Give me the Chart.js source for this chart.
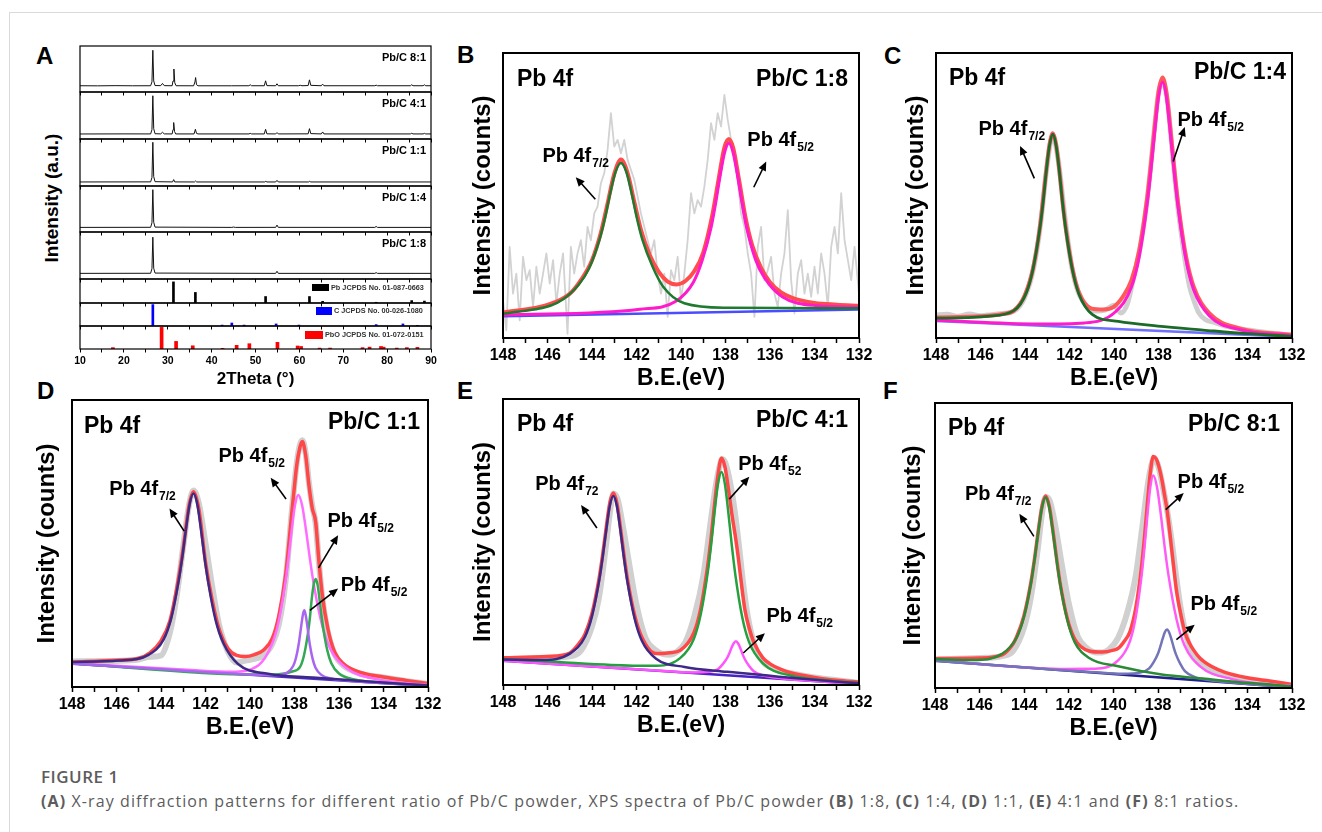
<!DOCTYPE html>
<html>
<head>
<meta charset="utf-8">
<script src="https://cdn.jsdelivr.net/npm/chart.js@4.4.1/dist/chart.umd.min.js"></script>
<style>
  html, body { margin: 0; padding: 0; background: #fff; }
  #page { position: relative; width: 1322px; height: 832px; overflow: hidden; font-family: 'Liberation Sans', Arial, sans-serif; }
  canvas { position: absolute; }
  .rule-top { position: absolute; left: 9px; top: 12px; right: 0; border-top: 1px solid #dadada; }
  .rule-left { position: absolute; left: 9px; top: 12px; bottom: 0; border-left: 1px solid #dadada; }
  .letter { position: absolute; font-weight: bold; font-size: 24px; line-height: 24px; }
  .ytitle { position: absolute; width: 200px; text-align: center; font-weight: bold; font-size: 19px; line-height: 20px; transform: rotate(-90deg); white-space: nowrap; }
  .cap { position: absolute; left: 41px; color: #5c5c5c; font-family: 'Open Sans', 'Noto Sans', sans-serif; white-space: nowrap; line-height: 20px; }
</style>
</head>
<body>
<div id="page">
  <div class="rule-top"></div>
  <div class="rule-left"></div>
  <div class="letter" style="left:36px;top:44px">A</div>
  <div class="letter" style="left:457px;top:43px">B</div>
  <div class="letter" style="left:884px;top:44px">C</div>
  <div class="letter" style="left:37px;top:379px">D</div>
  <div class="letter" style="left:457px;top:379px">E</div>
  <div class="letter" style="left:883px;top:379px">F</div>
  <div class="ytitle" style="left:-48px;top:188px">Intensity (a.u.)</div>
  <div class="cap" style="top:767px;font-size:17px;font-weight:600;letter-spacing:0.5px">FIGURE 1</div>
  <div class="cap" style="top:791px;font-size:16px;letter-spacing:1.1px"><b>(A)</b> X-ray diffraction patterns for different ratio of Pb/C powder, XPS spectra of Pb/C powder <b>(B)</b> 1:8, <b>(C)</b> 1:4, <b>(D)</b> 1:1, <b>(E)</b> 4:1 and <b>(F)</b> 8:1 ratios.</div>
</div>
<script>
const FAM = "'Liberation Sans', Arial, sans-serif";

// ---- (A) XRD patterns, [2theta, % of strip height] ----
const xrd81 = [[10,13.6],[14,13.4],[18,13.8],[22,13.5],[26.1,13.6],[26.4,22],[26.6,90.7],[26.8,24],[27.1,14],[28.4,13.8],[28.8,18.6],[29.2,13.8],[31.0,13.6],[31.2,24],[31.4,50],[31.6,20],[31.9,13.6],[35.9,13.5],[36.2,22],[36.35,31.4],[36.55,16],[36.9,13.5],[44.5,13.5],[48.5,13.6],[48.8,15.7],[49.1,13.6],[52.0,13.6],[52.3,24.3],[52.6,13.8],[54.6,13.6],[54.9,17.9],[55.2,13.6],[59.8,13.6],[60.2,14.6],[60.6,13.6],[62.0,14],[62.3,26.4],[62.6,14.5],[65.0,13.6],[65.3,17.1],[65.6,13.6],[77.2,13.6],[77.5,14.8],[77.8,13.6],[85.3,13.6],[85.6,15.7],[85.9,13.6],[88.2,13.6],[88.5,15.7],[88.8,13.6],[90,13.6]];
const xrd41 = [[10,10.7],[20,10.9],[26.1,10.8],[26.4,20],[26.6,92],[26.8,22],[27.1,11.2],[28.4,10.9],[28.8,14.3],[29.2,10.9],[31.0,10.8],[31.2,20],[31.35,35],[31.55,16],[31.8,10.8],[36.0,10.8],[36.3,20.7],[36.55,12],[36.9,10.8],[48.5,10.8],[48.8,12],[49.1,10.8],[52.0,10.8],[52.3,20.7],[52.6,11],[54.6,10.8],[54.9,13.6],[55.2,10.8],[62.0,11],[62.3,22],[62.6,11.5],[65.0,10.8],[65.3,15],[65.6,10.8],[85.3,10.8],[85.6,12.2],[85.9,10.8],[88.2,10.8],[88.5,12],[88.8,10.8],[90,10.8]];
const xrd11 = [[10,8.6],[26.1,8.8],[26.4,18],[26.6,93],[26.8,20],[27.1,9.2],[31.1,8.7],[31.35,13.6],[31.6,8.7],[36.1,8.6],[36.35,10.7],[36.6,8.6],[52.1,8.6],[52.35,10],[52.6,8.6],[54.6,8.6],[54.9,12],[55.2,8.6],[62.1,8.6],[62.35,10],[62.6,8.6],[90,8.6]];
const xrd14 = [[10,10],[26.1,10.2],[26.4,20],[26.6,92],[26.8,21],[27.1,10.6],[44.6,10],[45.0,10.8],[45.4,10],[54.6,10.1],[54.9,15],[55.2,10.1],[77.2,10],[77.5,12],[77.8,10],[90,10]];
const xrd18 = [[10,12],[26.1,12.2],[26.4,22],[26.6,89],[26.8,23],[27.1,12.6],[54.6,12],[54.9,16.4],[55.2,12],[77.2,12],[77.5,13.5],[77.8,12],[90,12]];

// reference cards
const pbPos = [31.3, 36.3, 52.3, 62.3, 65.3, 77.5, 85.6, 88.5];
const pbInt = [88, 44, 27, 27, 7, 3, 10, 8];
const cPos = [26.6, 42.4, 44.6, 47.4, 54.7, 59.9, 77.5, 83.6, 86.9];
const cInt = [93, 4, 13, 4, 9, 4, 6, 9, 3];
const pboPos = [17.5, 28.6, 31.9, 35.7, 42.5, 45.7, 48.6, 55.0, 59.6, 60.4, 64.6, 67.0, 74.4, 76.0, 78.6, 79.2, 82.2, 84.5, 86.9];
const pboInt = [6, 94, 33, 14, 3, 16, 23, 29, 13, 11, 4, 4, 6, 8, 11, 8, 4, 6, 7];

// ---- (B) Pb/C 1:8, [B.E. eV, % of plot height] ----
const bRaw = [[148.0,13.2],[147.85,2.7],[147.7,32.0],[147.55,15.6],[147.4,22.6],[147.25,6.2],[147.1,28.5],[146.95,20.3],[146.8,23.8],[146.65,10.9],[146.5,25.0],[146.35,15.6],[146.2,22.6],[146.05,29.7],[145.9,19.1],[145.75,27.3],[145.6,12.1],[145.45,22.6],[145.3,29.7],[145.1,1.5],[144.95,32.0],[144.8,22.6],[144.65,29.7],[144.5,34.3],[144.35,25.0],[144.2,39.0],[144.05,34.3],[143.9,43.7],[143.75,46.1],[143.6,54.3],[143.45,57.8],[143.3,66.0],[143.15,78.9],[143.0,67.2],[142.85,69.5],[142.7,64.8],[142.55,69.5],[142.4,62.5],[142.25,59.0],[142.1,55.5],[141.95,49.6],[141.8,43.7],[141.65,39.0],[141.5,34.3],[141.35,29.7],[141.2,34.3],[141.05,22.6],[140.9,15.6],[140.75,22.6],[140.6,7.4],[140.45,23.8],[140.3,20.3],[140.15,28.5],[140.0,13.2],[139.85,22.6],[139.7,34.3],[139.55,50.8],[139.4,43.7],[139.25,48.4],[139.1,46.1],[138.95,53.1],[138.8,62.5],[138.65,75.4],[138.5,69.5],[138.35,78.9],[138.2,74.2],[138.05,85.3],[137.9,76.6],[137.75,69.5],[137.6,63.7],[137.45,55.5],[137.3,43.7],[137.15,39.0],[137.0,29.7],[136.85,22.6],[136.7,7.4],[136.55,32.0],[136.4,39.0],[136.25,20.3],[136.1,23.8],[135.95,28.5],[135.8,15.6],[135.65,10.9],[135.5,22.6],[135.35,29.7],[135.2,44.9],[135.05,20.3],[134.9,8.6],[134.75,22.6],[134.6,27.3],[134.45,15.6],[134.3,22.6],[134.15,14.4],[134.0,25.0],[133.85,15.6],[133.7,29.7],[133.55,22.6],[133.4,10.9],[133.25,32.0],[133.1,39.0],[132.95,29.7],[132.8,50.8],[132.65,34.3],[132.5,27.3],[132.35,20.3],[132.2,32.0],[132.0,15.6]];
const bFit = [[148,8.9],[146,11.6],[145,15.5],[144.5,20.3],[144,27.3],[143.6,37.0],[143.3,47.2],[143.0,57.6],[142.7,62.6],[142.4,57.9],[142.1,47.8],[141.8,38.0],[141.4,29.0],[141.0,23.2],[140.6,19.8],[140.2,18.8],[139.8,20.0],[139.4,23.5],[139.0,30.0],[138.6,42.8],[138.3,56.2],[138.05,66.8],[137.85,69.8],[137.65,66.6],[137.4,55.9],[137.1,42.2],[136.8,32.5],[136.4,24.6],[136.0,19.6],[135.5,16.0],[135.0,14.1],[134.0,12.3],[133.0,11.7],[132.0,11.3]];
const bPk72 = [[148,8.5],[147.45,9.1],[145.55,12.4],[144.6,18.7],[144.13,24.5],[143.65,34.9],[143.41,42.3],[143.18,50.8],[142.94,58.3],[142.7,61.4],[142.46,58.3],[142.22,50.8],[141.99,42.3],[141.75,34.9],[141.27,24.9],[140.8,18.0],[139.85,12.2],[137.95,10.6],[132,10.4]];
const bPk52 = [[148,8.0],[141.85,10.1],[140.25,12.8],[139.45,19.5],[139.05,27.2],[138.65,38.7],[138.45,47.0],[138.25,56.5],[138.05,64.8],[137.85,68.3],[137.65,64.8],[137.45,56.5],[137.25,47.0],[137.05,38.7],[136.65,27.5],[136.25,21.2],[135.45,14.5],[133.85,11.3],[132,10.8]];
const bBase = [[148,7.6],[132,10.0]];

// ---- (C) Pb/C 1:4 ----
const cRaw = [[148,8.0],[147.5,8.3],[147,7.6],[146.5,8.4],[146,7.8],[145.5,8.2],[145,8.6],[144.5,9.4],[144,14.5],[143.6,25],[143.3,40],[143.0,61],[142.75,71],[142.5,62],[142.2,42],[141.9,25],[141.6,16],[141.2,11],[140.8,9.5],[140.4,9.8],[140.0,11.5],[139.7,8.8],[139.4,12],[139.1,22],[138.8,33],[138.5,49],[138.2,72],[138.0,86],[137.82,90],[137.6,83],[137.4,67],[137.2,51],[137.0,38],[136.8,27],[136.6,18],[136.4,13],[136.2,9],[135.9,6.5],[135.5,5.5],[135,4.2],[134,2.8],[133,1.8],[132,1.0]];
const cFit = [[148,7.2],[146,7.6],[145,8.45],[144.5,9.6],[144,15.2],[143.64,24.4],[143.34,38.3],[143.05,58.4],[142.9,67.8],[142.75,71.8],[142.6,67.8],[142.45,58.3],[142.31,47.6],[142.16,38.1],[141.86,24.1],[141.57,15.9],[141.0,10.3],[140.5,10.0],[140.0,11.0],[139.6,14.5],[139.22,20.2],[138.87,30.5],[138.52,48.4],[138.345,60.5],[138.17,74.2],[137.995,86.5],[137.82,91.4],[137.645,86.2],[137.47,73.7],[137.295,59.7],[137.12,47.4],[136.77,28.9],[136.42,18.0],[135.72,8.7],[134.32,3.3],[132,1.1]];
const cPk72 = [[148,7.0],[147.47,7.0],[145.7,7.6],[144.52,9.5],[143.93,16.1],[143.64,24.2],[143.34,38.1],[143.19,47.4],[143.05,58.1],[142.9,67.5],[142.75,71.5],[142.6,67.5],[142.45,58.0],[142.31,47.2],[142.16,37.7],[141.86,23.6],[141.57,15.3],[140.98,8.3],[139.8,5.8],[138.03,4.2],[136,2.8],[134,1.5],[132,0.6]];
const cPk52 = [[148,6.2],[143.42,4.9],[141.32,5.3],[139.92,9.3],[139.22,17.8],[138.87,28.3],[138.52,46.4],[138.345,58.5],[138.17,72.4],[137.995,84.7],[137.82,89.7],[137.645,84.6],[137.47,72.1],[137.295,58.2],[137.12,45.9],[136.77,27.6],[136.42,16.9],[135.72,7.8],[134.32,2.9],[132,0.9]];
const cBase = [[148,6.0],[132,0.4]];

// ---- (D) Pb/C 1:1 ----
const dRaw = [[148,8.9],[147,9.0],[146,9.1],[145,9.6],[144.5,10.5],[144.0,11.0],[143.6,19.0],[143.3,31.5],[143.0,49],[142.75,63],[142.54,68.5],[142.3,64],[142.0,50],[141.7,35],[141.4,22],[141.0,12.5],[140.6,8.5],[140.2,9.2],[139.8,9.8],[139.4,11.0],[139.0,15.0],[138.7,22.0],[138.4,37.0],[138.1,63.0],[137.9,78.0],[137.75,84.5],[137.65,86.0],[137.5,81.5],[137.35,71.0],[137.2,63.0],[137.05,57.0],[136.9,43.0],[136.75,31.0],[136.5,19.0],[136.2,11.5],[135.8,7.5],[135,4.6],[134,3.3],[133,2.1],[132,1.0]];
const dFit = [[148,8.7],[146,9.3],[145,10.0],[144.5,11.9],[144.0,16.1],[143.6,23.0],[143.3,34.0],[143.0,48.3],[142.75,62.8],[142.54,68.0],[142.3,62.0],[142.0,43.5],[141.7,30.3],[141.4,20.5],[141.0,13.5],[140.6,11.0],[140.2,10.6],[139.8,11.3],[139.4,12.8],[139.0,16.9],[138.7,25.0],[138.4,39.0],[138.1,62.2],[137.9,77.3],[137.75,83.7],[137.65,85.5],[137.5,80.8],[137.35,70.3],[137.2,62.2],[137.05,57.6],[136.9,43.6],[136.75,32.0],[136.5,20.3],[136.2,12.2],[135.8,8.1],[135.0,5.0],[134.0,3.5],[133,2.3],[132,1.2]];
const dPk72 = [[148,8.7],[145.89,9.2],[144.54,11.3],[143.88,16.6],[143.54,24.0],[143.21,36.8],[143.04,45.4],[142.875,55.2],[142.71,63.8],[142.54,67.4],[142.37,63.7],[142.205,54.9],[142.04,44.9],[141.87,36.1],[141.54,23.1],[141.2,15.3],[140.54,8.0],[139.19,4.6],[137.18,3.3],[132,0.5]];
const dPk52a = [[148,8.3],[142.63,5.9],[140.83,5.3],[139.63,7.5],[139.03,14.6],[138.73,22.2],[138.43,35.4],[138.28,44.2],[138.13,54.3],[137.98,63.2],[137.83,66.9],[137.65,63.0],[137.47,54.0],[137.29,43.7],[137.11,34.7],[136.75,21.3],[136.39,13.3],[135.67,6.6],[134.23,2.6],[132,0.7]];
const dPk52b = [[148,8.2],[139.85,4.35],[138.8,4.35],[138.1,5.4],[137.75,7.0],[137.575,11.0],[137.4,18.5],[137.31,24.0],[137.225,30.7],[137.14,35.55],[137.05,37.6],[136.96,35.5],[136.875,30.5],[136.79,25.0],[136.7,20.0],[136.525,12.75],[136.35,8.4],[136.0,4.7],[135.3,2.66],[134.25,1.65],[132,0.5]];
const dPk52c = [[148,8.2],[139.56,4.2],[138.81,4.1],[138.31,5.1],[138.06,7.3],[137.935,10.1],[137.81,15.0],[137.75,18.3],[137.685,22.0],[137.62,25.3],[137.56,26.7],[137.5,25.2],[137.435,21.9],[137.37,18.1],[137.31,14.7],[137.185,9.8],[137.06,6.8],[136.81,4.3],[136.31,2.9],[135.56,2.2],[132,0.5]];
const dBase = [[148,8.1],[132,0.35]];

// ---- (E) Pb/C 4:1 ----
const eRaw = [[148,9.0],[147,9.3],[146,9.5],[145,10.0],[144.5,12.0],[144.0,20.5],[143.7,30],[143.4,47],[143.2,60],[143.04,67],[142.85,65],[142.6,55],[142.3,41],[142.0,28],[141.6,16.5],[141.2,12.5],[140.8,10.8],[140.5,10.6],[140.2,11.5],[139.8,15.0],[139.4,24.0],[139.0,38.0],[138.7,55.0],[138.45,69.0],[138.25,77.0],[138.15,79.0],[138.0,77.5],[137.8,71.0],[137.6,61.5],[137.4,49.0],[137.2,35.0],[137.0,24.0],[136.7,14.0],[136.3,8.0],[136.0,6.4],[135.5,4.8],[135,4.0],[134,2.6],[133,1.7],[132,0.7]];
const eFit = [[148,9.5],[146,10.0],[145,11.2],[144.5,15.4],[144.32,17.7],[144.0,25.0],[143.68,37.3],[143.52,45.6],[143.36,55.1],[143.2,63.6],[143.04,67.1],[142.88,63.5],[142.72,54.9],[142.56,45.2],[142.4,36.7],[142.08,24.2],[141.76,16.7],[141.12,11.0],[140.5,11.3],[140.04,12.1],[139.42,18.3],[139.11,26.8],[138.8,41.7],[138.645,51.5],[138.49,63.3],[138.335,73.6],[138.18,79.3],[138.025,76.3],[137.87,68.6],[137.715,59.8],[137.56,52.1],[137.43,44.8],[137.25,33.2],[137.13,26.4],[136.94,20.0],[136.73,15.0],[136.32,9.5],[136.0,7.4],[135.5,5.5],[135.08,4.3],[134.0,2.65],[133.0,1.65],[132,1.0]];
const ePk72 = [[148,8.9],[146.24,8.76],[144.96,11.15],[144.32,16.8],[144.0,24.1],[143.68,36.4],[143.52,44.7],[143.36,54.2],[143.2,62.7],[143.04,66.1],[142.88,62.5],[142.72,53.9],[142.56,44.2],[142.4,35.7],[142.08,23.1],[141.76,15.5],[141.12,9.2],[139.84,6.3],[137.92,4.6],[136,3.2],[134,1.8],[132,0.6]];
const ePk52a = [[148,9.1],[145.5,8.0],[143.14,7.0],[141.28,6.7],[140.04,9.4],[139.42,16.2],[139.11,24.8],[138.8,39.3],[138.645,49.1],[138.49,60.5],[138.335,70.4],[138.18,74.5],[138.025,70.2],[137.87,60.1],[137.715,48.7],[137.56,38.7],[137.25,23.8],[136.94,15.0],[136.32,7.55],[135.08,3.3],[133.22,1.4],[132,0.7]];
const ePk52b = [[148,8.5],[140.73,4.9],[139.53,4.4],[138.73,4.6],[138.33,5.6],[138.13,7.2],[137.93,9.4],[137.83,11.0],[137.73,13.0],[137.63,14.6],[137.53,15.3],[137.43,14.5],[137.33,12.8],[137.23,10.7],[137.13,9.0],[136.93,6.55],[136.73,4.8],[136.33,3.4],[135.53,2.4],[134.33,1.6],[132,0.4]];
const eBase = [[148,8.5],[132,0.35]];

// ---- (F) Pb/C 8:1 ----
const fRaw = [[148,10.0],[147,10.3],[146,10.5],[145,11.2],[144.5,13.0],[144.0,21.5],[143.7,32],[143.4,48.5],[143.2,61.5],[143.04,67],[142.85,65.5],[142.6,56.5],[142.3,42.5],[142.0,29.5],[141.6,18],[141.2,14.0],[140.8,12.5],[140.5,12.5],[140.2,13.5],[139.8,17.5],[139.4,26.0],[139.0,39.5],[138.7,57.0],[138.45,72.0],[138.25,79.5],[138.15,80.0],[138.0,78.0],[137.8,71.0],[137.6,62.5],[137.4,52.0],[137.2,39.5],[137.0,28.5],[136.7,17.0],[136.3,10.0],[136.0,7.9],[135.5,5.6],[135,4.5],[134,2.8],[133,1.7],[132,0.8]];
const fFit = [[148,10.3],[146,10.5],[145,11.6],[144.5,15.5],[144.34,18.0],[144.015,25.3],[143.69,37.6],[143.53,45.9],[143.365,55.5],[143.2,63.9],[143.04,67.4],[142.88,63.8],[142.715,55.2],[142.55,45.4],[142.39,36.8],[142.065,24.3],[141.74,17.2],[141.09,13.0],[140.5,12.6],[140.0,13.3],[139.78,14.0],[139.5,16.6],[139.26,19.8],[139.0,28.1],[138.74,42.8],[138.61,53.0],[138.48,64.9],[138.35,75.5],[138.22,81.2],[138.09,80.5],[137.96,77.5],[137.83,73.0],[137.7,67.1],[137.6,62.5],[137.44,52.0],[137.3,42.3],[137.18,34.3],[137.0,26.5],[136.8,19.6],[136.6,15.8],[136.4,13.2],[136.12,10.4],[135.62,7.6],[135.0,5.5],[134.0,3.6],[133,2.45],[132,1.25]];
const fPk72 = [[148,10.2],[146.29,9.8],[144.99,12.0],[144.34,17.7],[144.015,24.9],[143.69,37.2],[143.53,45.5],[143.365,55.1],[143.2,63.5],[143.04,66.9],[142.88,63.3],[142.715,54.7],[142.55,44.9],[142.39,36.4],[142.065,23.7],[141.74,16.1],[141.09,10.5],[139.79,7.6],[137.84,4.7],[136,3.3],[134,1.8],[132,0.6]];
const fPk52a = [[148,9.7],[142.38,6.7],[140.82,6.75],[139.78,9.8],[139.26,16.5],[139.0,25.0],[138.74,39.5],[138.61,49.3],[138.48,60.6],[138.35,70.5],[138.22,74.6],[138.045,70.3],[137.87,60.3],[137.695,48.75],[137.52,38.8],[137.17,23.95],[136.82,15.0],[136.12,7.6],[134.72,3.2],[132.62,1.0],[132,0.8]];
const fPk52b = [[148,9.6],[140.8,5.5],[139.6,5.0],[138.8,5.4],[138.4,6.9],[138.2,9.05],[138.0,12.2],[137.9,14.6],[137.8,17.2],[137.7,19.55],[137.6,20.5],[137.5,19.4],[137.4,17.0],[137.3,14.2],[137.2,11.8],[137.0,8.35],[136.8,5.9],[136.4,4.0],[135.6,2.6],[134.4,1.7],[132,0.3]];
const fBase = [[148,9.6],[132,0.23]];

Chart.defaults.font.family = FAM;
Chart.defaults.color = '#000';
Chart.defaults.animation = false;
Chart.defaults.responsive = false;
Chart.defaults.events = [];
Chart.defaults.plugins.legend.display = false;
Chart.defaults.plugins.tooltip.enabled = false;

const page = document.getElementById('page');

function addCanvas(left, top, w, h) {
  const c = document.createElement('canvas');
  c.width = w; c.height = h;
  c.style.left = left + 'px'; c.style.top = top + 'px';
  c.style.width = w + 'px'; c.style.height = h + 'px';
  page.appendChild(c);
  return c;
}

const pts = arr => arr.map(p => ({ x: p[0], y: p[1] }));

function curve(data, color, width, smooth = true) {
  return {
    data: pts(data), borderColor: color, borderWidth: width, pointRadius: 0, fill: false,
    cubicInterpolationMode: smooth ? 'monotone' : 'default', tension: 0,
    borderJoinStyle: 'round', borderCapStyle: 'round'
  };
}

// frame + texts for the XPS panels
const xpsDeco = {
  id: 'xpsDeco',
  afterDraw(chart, args, o) {
    const { ctx, chartArea: a, scales: { x, y } } = chart;
    ctx.save();
    ctx.strokeStyle = '#000'; ctx.fillStyle = '#000';
    ctx.lineWidth = 2;
    ctx.strokeRect(a.left, a.top, a.right - a.left, a.bottom - a.top);

    ctx.font = 'bold 23px ' + FAM;
    ctx.textBaseline = 'alphabetic';
    ctx.textAlign = 'left';
    ctx.fillText('Pb 4f', a.left + o.tl[0], a.top + o.tl[1]);
    ctx.textAlign = 'right';
    ctx.fillText(o.ratio, a.right - o.tr[0], a.top + o.tr[1]);

    ctx.textAlign = 'left';
    o.labels.forEach(l => {
      const px = x.getPixelForValue(l[0]), py = y.getPixelForValue(l[1]);
      ctx.font = 'bold 20px ' + FAM;
      ctx.fillText('Pb 4f', px, py);
      const w = ctx.measureText('Pb 4f').width;
      ctx.font = 'bold 12px ' + FAM;
      ctx.fillText(l[2], px + w + 1, py + 5);
    });

    ctx.lineWidth = 1.6;
    o.arrows.forEach(r => {
      const x1 = x.getPixelForValue(r[0]), y1 = y.getPixelForValue(r[1]);
      const x2 = x.getPixelForValue(r[2]), y2 = y.getPixelForValue(r[3]);
      const ang = Math.atan2(y2 - y1, x2 - x1), c = Math.cos(ang), s = Math.sin(ang);
      ctx.beginPath(); ctx.moveTo(x1, y1); ctx.lineTo(x2 - 6 * c, y2 - 6 * s); ctx.stroke();
      ctx.beginPath(); ctx.moveTo(x2, y2);
      ctx.lineTo(x2 - 9 * c + 4 * s, y2 - 9 * s - 4 * c);
      ctx.lineTo(x2 - 9 * c - 4 * s, y2 - 9 * s + 4 * c);
      ctx.closePath(); ctx.fill();
    });
    ctx.restore();
  }
};

function xpsPanel(box, datasets, notes) {
  const yW = Math.round(box.left - box.titleX + 14.4);
  const padT = 12, padR = 18, padB = 4, xH = 54;
  const cv = addCanvas(box.left - yW, box.top - padT,
    yW + (box.right - box.left) + padR, padT + (box.bottom - box.top) + xH + padB);
  new Chart(cv, {
    type: 'line',
    data: { datasets },
    options: {
      layout: { padding: { left: 0, top: padT, right: padR, bottom: padB } },
      scales: {
        x: {
          type: 'linear', reverse: true, min: 132, max: 148,
          afterFit: s => { s.height = xH; },
          ticks: { stepSize: 1, autoSkip: false, maxRotation: 0, padding: 3, color: '#000',
                   font: { size: 16, weight: 'bold' },
                   callback: v => (v % 2 === 0 ? String(v) : '') },
          grid: { drawOnChartArea: false, tickLength: 5, tickWidth: 1.5, tickColor: '#000' },
          border: { display: false },
          title: { display: true, text: 'B.E.(eV)', color: '#000', padding: 0, font: { size: 23, weight: 'bold' } }
        },
        y: {
          min: 0, max: 100,
          afterFit: s => { s.width = yW; },
          ticks: { display: false }, grid: { display: false }, border: { display: false },
          title: { display: true, text: 'Intensity (counts)', color: '#000', padding: 0, font: { size: 24, weight: 'bold' } }
        }
      },
      plugins: { xpsDeco: notes }
    },
    plugins: [xpsDeco]
  });
}

// frame, label and key for each XRD strip
const stripDeco = {
  id: 'stripDeco',
  afterDraw(chart, args, o) {
    const { ctx, chartArea: a } = chart;
    ctx.save();
    ctx.strokeStyle = '#000'; ctx.lineWidth = 1.2;
    ctx.strokeRect(a.left, a.top, a.right - a.left, a.bottom - a.top);
    ctx.fillStyle = '#000';
    if (o.label) {
      ctx.font = 'bold 11px ' + FAM;
      ctx.textAlign = 'right'; ctx.textBaseline = 'top';
      ctx.fillText(o.label, a.right - 5, a.top + 6);
    }
    if (o.key) {
      const k = o.key;
      ctx.fillStyle = k.color;
      ctx.fillRect(a.right - k.bx, a.top + k.by, k.bw, k.bh);
      ctx.fillStyle = '#333';
      ctx.font = 'bold 7.3px ' + FAM;
      ctx.textAlign = 'left'; ctx.textBaseline = 'middle';
      ctx.fillText(k.text, a.right - k.tx, a.top + k.ty);
    }
    ctx.restore();
  }
};

function xrdStrip(top, bottom, type, datasets, deco, isBottom) {
  const padL = 10, padR = 10, padT = 2, xH = isBottom ? 41 : 4;
  const cv = addCanvas(80 - padL, top - padT, 351 + padL + padR, padT + (bottom - top) + xH + 1);
  new Chart(cv, {
    type,
    data: { datasets },
    options: {
      layout: { padding: { left: padL, top: padT, right: padR, bottom: 1 } },
      scales: {
        x: {
          type: 'linear', min: 10, max: 90, offset: false,
          afterFit: s => { s.height = xH; },
          ticks: { display: isBottom, stepSize: 5, autoSkip: false, maxRotation: 0, padding: 2, color: '#000',
                   font: { size: 10.5, weight: 'bold' },
                   callback: v => (v % 10 === 0 ? String(v) : '') },
          grid: { drawOnChartArea: false, offset: false, tickLength: 3.5, tickWidth: 1, tickColor: '#000' },
          border: { display: false },
          title: { display: isBottom, text: '2Theta (°)', color: '#000', padding: 0, font: { size: 17, weight: 'bold' } }
        },
        y: { display: false, min: 0, max: 100 }
      },
      plugins: { stripDeco: deco }
    },
    plugins: [stripDeco]
  });
}

const xrdLine = d => ({ data: pts(d), borderColor: '#111', borderWidth: 1, pointRadius: 0, tension: 0 });
const refBars = (pos, val, color, w) => ({
  data: pos.map((p, i) => ({ x: p, y: val[i] })), backgroundColor: color, barThickness: w
});

xrdStrip(46, 92, 'line', [xrdLine(xrd81)], { label: 'Pb/C 8:1' });
xrdStrip(92, 139, 'line', [xrdLine(xrd41)], { label: 'Pb/C 4:1' });
xrdStrip(139, 186, 'line', [xrdLine(xrd11)], { label: 'Pb/C 1:1' });
xrdStrip(186, 232, 'line', [xrdLine(xrd14)], { label: 'Pb/C 1:4' });
xrdStrip(232, 279, 'line', [xrdLine(xrd18)], { label: 'Pb/C 1:8' });
xrdStrip(279, 303, 'bar', [refBars(pbPos, pbInt, '#000', 2)],
  { key: { color: '#000', bx: 119, by: 5, bw: 17, bh: 7, tx: 100, ty: 8.5, text: 'Pb JCPDS No. 01-087-0663' } });
xrdStrip(303, 326, 'bar', [refBars(cPos, cInt, '#0000ff', 2)],
  { key: { color: '#0000ff', bx: 115, by: 4, bw: 16, bh: 8, tx: 97, ty: 8, text: 'C JCPDS No. 00-026-1080' } });
xrdStrip(326, 349, 'bar', [refBars(pboPos, pboInt, '#ff0000', 3)],
  { key: { color: '#ff0000', bx: 126, by: 5, bw: 18, bh: 8, tx: 106, ty: 9, text: 'PbO JCPDS No. 01-072-0151' } }, true);

// XPS panels
xpsPanel({ left: 503, right: 859, top: 53, bottom: 338, titleX: 483 }, [
  curve(bPk72, '#1d7a2e', 2.5), curve(bPk52, '#ff1acb', 3), curve(bBase, '#4b4bff', 2.5),
  curve(bFit, '#ff4d4d', 4), curve(bRaw, '#d2d2d2', 1.8, false)
], { ratio: 'Pb/C 1:8', tl: [14, 33], tr: [11, 33],
     labels: [[146.23, 61.9, '7/2'], [137.02, 67.4, '5/2']],
     arrows: [[143.85, 48.7, 144.73, 56.4], [136.73, 52.9, 136.17, 61.9]] });

xpsPanel({ left: 936, right: 1292, top: 53, bottom: 338, titleX: 916 }, [
  curve(cPk72, '#1c6b28', 2.8), curve(cPk52, '#ff1ccd', 3), curve(cBase, '#7070ff', 2.5),
  curve(cFit, '#ff5a5a', 4), curve(cRaw, '#cfcfcf', 5)
], { ratio: 'Pb/C 1:4', tl: [13, 32], tr: [6, 26],
     labels: [[146.09, 71.3, '7/2'], [137.15, 74.4, '5/2']],
     arrows: [[143.58, 56.0, 144.22, 67.4], [137.34, 61.9, 136.82, 74.0]] });

xpsPanel({ left: 72, right: 428, top: 400, bottom: 687, titleX: 47 }, [
  curve(dPk72, '#3d2a86', 2.5), curve(dPk52c, '#a866f0', 2.5), curve(dPk52b, '#34a853', 2.5),
  curve(dPk52a, '#ff6cff', 2.5), curve(dBase, '#4c2bd0', 2.5),
  curve(dFit, '#ff4747', 3.5), curve(dRaw, '#d0d0d0', 6)
], { ratio: 'Pb/C 1:1', tl: [12, 33], tr: [8, 29],
     labels: [[146.33, 66.9, '7/2'], [141.42, 78.3, '5/2'], [136.52, 55.8, '5/2'], [135.92, 33.4, '5/2']],
     arrows: [[142.96, 54.3, 143.62, 62.2], [138.38, 65.5, 139.07, 72.9],
              [136.92, 41.5, 136.04, 52.9], [137.31, 26.7, 136.04, 34.3]] });

xpsPanel({ left: 503, right: 859, top: 399, bottom: 685, titleX: 483 }, [
  curve(ePk72, '#3d2a86', 2.5), curve(ePk52a, '#24a03e', 2.5), curve(ePk52b, '#ff55ff', 2.5),
  curve(eBase, '#4a22c8', 2.5), curve(eFit, '#ff4747', 3.5), curve(eRaw, '#d0d0d0', 6)
], { ratio: 'Pb/C 4:1', tl: [14, 32], tr: [11, 28],
     labels: [[146.55, 68.1, '72'], [137.43, 75.1, '52'], [136.16, 22.0, '5/2']],
     arrows: [[143.78, 54.9, 144.49, 62.9], [137.83, 65.0, 136.93, 72.8], [137.2, 11.2, 136.23, 18.1]] });

xpsPanel({ left: 935, right: 1292, top: 403, bottom: 688, titleX: 913 }, [
  curve(fPk72, '#2b8a35', 2.5), curve(fPk52b, '#7474b8', 2.5), curve(fPk52a, '#ff5cf5', 2.5),
  curve(fBase, '#20208e', 2.5), curve(fFit, '#ff4747', 3.5), curve(fRaw, '#d0d0d0', 6)
], { ratio: 'Pb/C 8:1', tl: [13, 32], tr: [12, 28],
     labels: [[146.66, 66.1, '7/2'], [137.13, 70.2, '5/2'], [136.55, 27.5, '5/2']],
     arrows: [[143.57, 53.2, 144.22, 61.1], [137.66, 62.6, 136.85, 68.4], [137.18, 17.0, 136.36, 22.2]] });
</script>
</body>
</html>
